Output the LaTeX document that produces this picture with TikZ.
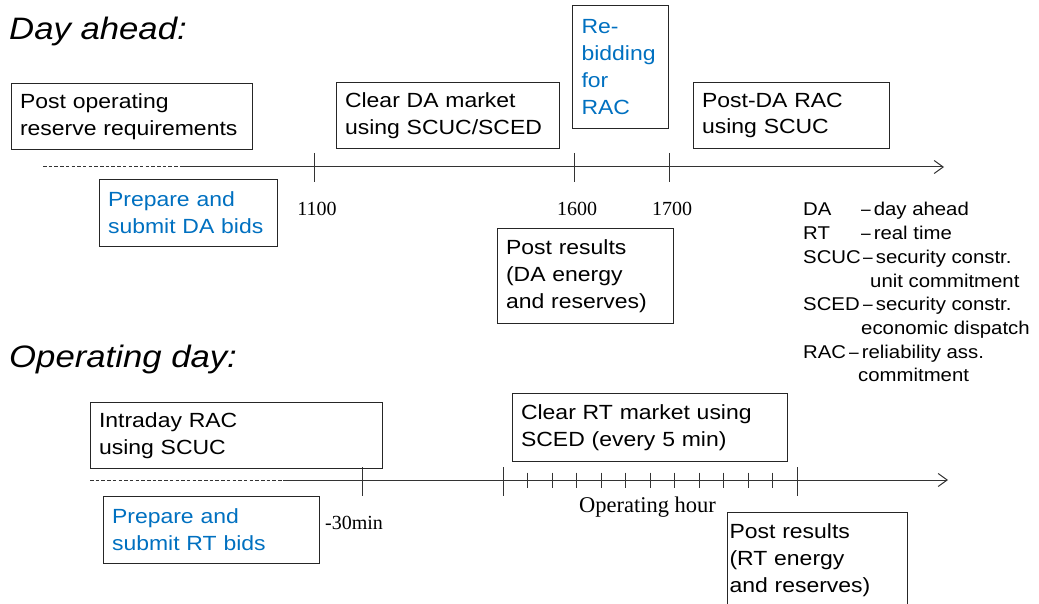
\documentclass[tikz,border=0pt]{standalone}
\usepackage{fontspec}
\setmainfont{Liberation Sans}[FakeStretch=1.12]
\newfontfamily\legfont{Liberation Sans}[FakeStretch=1.1]
\newfontfamily\numfont{Liberation Serif}
\usetikzlibrary{arrows.meta}
\definecolor{bidblue}{HTML}{0070C0}
\definecolor{axis}{HTML}{333333}

% short dash used between an abbreviation and its meaning
\newcommand{\legdash}{\scalebox{0.85}[1]{–}\hspace{3pt}}

\tikzset{
  stepbox/.style={draw=black!85, line width=1.1pt, anchor=north west, align=left,
    inner xsep=8.5pt, inner ysep=0pt, font=\fontsize{20.5}{26.8}\selectfont},
  bidbox/.style={stepbox, text=bidblue},
  title/.style={anchor=base west, inner sep=0pt, font=\fontsize{31}{36}\selectfont\itshape},
  timelabel/.style={anchor=base, inner sep=0pt, font=\numfont\fontsize{20}{24}\selectfont},
  legabbr/.style={anchor=base west, inner sep=0pt, font=\legfont\fontsize{18.5}{22}\selectfont},
  timeline/.style={draw=axis, line width=1pt},
  pastline/.style={draw=axis, line width=1pt, dash pattern=on 3.5pt off 2.2pt},
  tick/.style={draw=axis, line width=1pt},
  arrowend/.style={-{Straight Barb[length=9pt,width=13pt]}}
}

\begin{document}
\begin{tikzpicture}[x=1pt,y=-1pt]
\useasboundingbox (0,0) rectangle (1039,604);
\clip (0,0) rectangle (1039,604);

% ---------- Day ahead ----------
\node[title] (tda) at (9,40) {Day ahead:};

\coordinate (da0) at (43,167);
\coordinate (da1) at (180,167);
\coordinate (da2) at (944,167);
\draw[pastline] (da0) -- (da1);
\draw[timeline, arrowend] (da1) -- (da2);

\foreach \x in {314,574,669}
  \draw[tick] (\x,153) -- (\x,182);

\node[timelabel] (t1100) at (317,216) {1100};
\node[timelabel] (t1600) at (577,216) {1600};
\node[timelabel] (t1700) at (672,216) {1700};

\node[stepbox, minimum width=241pt, minimum height=66pt, text width=224pt] (pors) at (11,83)
  {Post operating\\reserve requirements};
\node[bidbox, minimum width=178pt, minimum height=67pt, text width=161pt] (bidda) at (99,179)
  {Prepare and\\submit DA bids};
\node[stepbox, minimum width=223pt, minimum height=66pt, text width=206pt] (clrda) at (336,82)
  {Clear DA market\\using SCUC/SCED};
\node[bidbox, minimum width=96pt, minimum height=123pt, text width=78pt, inner xsep=9pt] (rebid) at (572,5)
  {Re-\\bidding\\for\\RAC};
\node[stepbox, minimum width=196pt, minimum height=66pt, text width=179pt, inner xsep=8.5pt] (pdrac) at (693,82)
  {Post-DA RAC\\using SCUC};
\node[stepbox, minimum width=176pt, minimum height=95pt, text width=159pt] (resda) at (497,228)
  {Post results\\(DA energy\\and reserves)};

% ---------- Legend ----------
\node[legabbr] (lg1) at (803,216.0) {DA};
\node[legabbr] (lg1t) at (861,216.0) {\legdash day ahead};
\node[legabbr] (lg2) at (803,239.7) {RT};
\node[legabbr] (lg2t) at (861,239.7) {\legdash real time};
\node[legabbr] (lg3) at (803,263.4) {SCUC};
\node[legabbr] (lg3t) at (863,263.4) {\legdash security constr.};
\node[legabbr] (lg4t) at (870,287.1) {unit commitment};
\node[legabbr] (lg5) at (803,310.8) {SCED};
\node[legabbr] (lg5t) at (863,310.8) {\legdash security constr.};
\node[legabbr] (lg6t) at (861,334.5) {economic dispatch};
\node[legabbr] (lg7) at (803,358.2) {RAC};
\node[legabbr] (lg7t) at (849,358.2) {\legdash reliability ass.};
\node[legabbr] (lg8t) at (858,381.9) {commitment};

% ---------- Operating day ----------
\node[title] (top) at (9,367) {Operating day:};

\coordinate (od0) at (90,480);
\coordinate (od1) at (283,480);
\coordinate (od2) at (948,480);
\draw[pastline] (od0) -- (od1);
\draw[timeline, arrowend] (od1) -- (od2);

\foreach \x in {362,503,797}
  \draw[tick] (\x,467) -- (\x,496);
\foreach \k in {1,...,11}
  \draw[tick] (503+24.5*\k,472.5) -- (503+24.5*\k,487.5);

\node[timelabel, anchor=base west] (t30) at (325,529) {-30min};
\node[timelabel, font=\numfont\fontsize{22.5}{26}\selectfont] (ophr) at (647.5,512) {Operating hour};

\node[stepbox, minimum width=292pt, minimum height=66pt, text width=275pt] (intra) at (90,402)
  {Intraday RAC\\using SCUC};
\node[bidbox, minimum width=216pt, minimum height=67pt, text width=199pt] (bidrt) at (103,496)
  {Prepare and\\submit RT bids};
\node[stepbox, minimum width=275pt, minimum height=68pt, text width=258pt] (clrrt) at (512,393)
  {Clear RT market using\\SCED (every 5 min)};
\node[stepbox, minimum width=180pt, minimum height=95pt, text width=176pt, inner xsep=2pt] (resrt) at (727,512)
  {Post results\\(RT energy\\and reserves)};
\end{tikzpicture}
\end{document}
